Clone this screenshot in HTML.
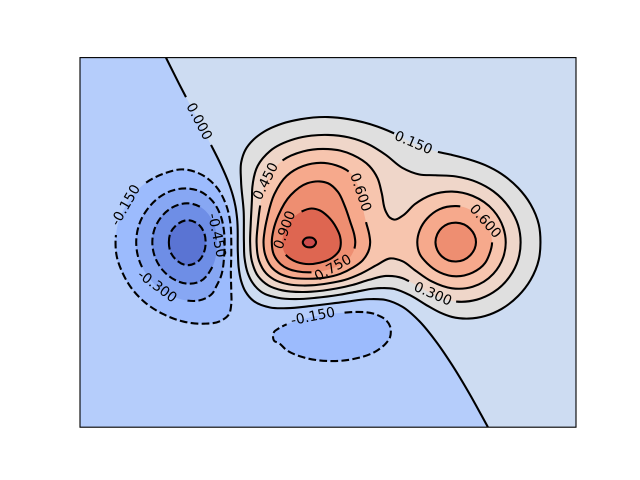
<!DOCTYPE html>
<html lang="en">
<head>
<meta charset="utf-8">
<title>Contour chart</title>
<style>
html,body{margin:0;padding:0;background:#fff;width:640px;height:480px;overflow:hidden}
svg{display:block}
text{font-family:"DejaVu Sans","Liberation Sans",sans-serif;font-size:13.89px;fill:#000}
</style>
</head>
<body>
<svg id="chart" xmlns="http://www.w3.org/2000/svg" width="640" height="480" viewBox="0 0 640 480">
  <defs><clipPath id="axes-clip"><rect x="80" y="57.6" width="496" height="369.6"></rect></clipPath></defs>
  <rect x="0" y="0" width="640" height="480" fill="#ffffff"></rect>
  <g id="fills" clip-path="url(#axes-clip)"></g>
  <g id="lines" clip-path="url(#axes-clip)"></g>
  <g id="labels"></g>
  <rect x="80" y="57.6" width="496" height="369.6" fill="none" stroke="#000" stroke-width="1.11"></rect>
</svg>
<script>
// Contour vertices, in data coordinates [x, y]
const zero = [[-1.96,3],[-1.8,2.571],[-1.718,2.358],[-1.6,2.056],[-1.415,1.582],[-1.3,1.273],[-1.2,.961],[-1.15,.758],[-1.12,.587],[-1.1,.394],[-1.09,-.18],[-1.08,-.414],[-1.05,-.629],[-1,-.794],[-.9,-.951],[-.7,-1.057],[-.5,-1.068],[-.2,-1.032],[.2,-.966],[.5,-.921],[.7,-.935],[.9,-1.045],[1.1,-1.272],[1.3,-1.596],[1.5,-1.987],[1.7,-2.43],[1.935,-3]];
const pos015 = [[1.33,1.47],[1.5,1.42],[1.7,1.35],[1.9,1.255],[2.1,1.11],[2.3,.885],[2.45,.62],[2.55,.29],[2.57,0],[2.55,-.28],[2.45,-.61],[2.3,-.87],[2.1,-1.08],[1.9,-1.195],[1.7,-1.237],[1.5,-1.21],[1.35,-1.135],[1.2,-1.025],[1,-.863],[.8,-.755],[.55,-.75],[.345,-.8],[.14,-.85],[-.15,-.9],[-.4,-.92],[-.6,-.9],[-.81,-.8],[-.915,-.65],[-.97,-.5],[-1.01,-.25],[-1.017,0],[-1.02,.5],[-1.052,1],[-1.05,1.3],[-1,1.5],[-.9,1.67],[-.77,1.8],[-.55,1.93],[-.33,2],[0,2.035],[.25,2],[.6,1.88],[.8,1.77],[1,1.63]];
const pos030 = [[1.55,-.96],[1.8,-.93],[2,-.81],[2.2,-.55],[2.3,-.28],[2.33,0],[2.3,.28],[2.2,.55],[2,.83],[1.8,.98],[1.55,1.07],[1.3,1.09],[1.1,1.105],[.9,1.21],[.7,1.42],[.5,1.587],[.25,1.705],[0,1.745],[-.2,1.733],[-.4,1.68],[-.7,1.485],[-.85,1.245],[-.915,.9],[-.92,.7],[-.935,.3],[-.942,0],[-.922,-.3],[-.845,-.55],[-.72,-.7],[-.55,-.78],[-.3,-.805],[-.2,-.8],[.1,-.748],[.3,-.69],[.5,-.607],[.7,-.545],[.9,-.58],[.98,-.63],[1.3,-.862]];
const pos045 = [[-.82,.6],[-.848,.3],[-.864,0],[-.834,-.3],[-.75,-.5],[-.655,-.6],[-.48,-.68],[-.3,-.7],[-.2,-.697],[0,-.665],[.2,-.61],[.4,-.505],[.6,-.36],[.75,-.26],[.9,-.305],[1.05,-.45],[1.25,-.63],[1.5,-.745],[1.75,-.72],[2,-.51],[2.12,-.24],[2.15,0],[2.12,.24],[2,.52],[1.75,.755],[1.5,.825],[1.25,.77],[1.05,.62],[.9,.43],[.8,.37],[.75,.4],[.7,.5],[.65,.8],[.6,1.04],[.5,1.24],[.3,1.42],[.15,1.49],[0,1.515],[-.3,1.477],[-.55,1.33],[-.75,.99]];
const pos060Left = [[.25,1.15],[.1,1.25],[0,1.283],[-.3,1.24],[-.5,1.08],[-.65,.78],[-.735,.4],[-.765,.2],[-.78,0],[-.76,-.2],[-.685,-.4],[-.595,-.5],[-.45,-.57],[-.25,-.59],[-.05,-.575],[.15,-.51],[.3,-.41],[.42,-.29],[.5,-.1],[.51,0],[.5,.12],[.46,.33],[.415,.6],[.37,.9]];
const pos060Right = [[1.985,0],[1.95,-.2],[1.9,-.335],[1.75,-.49],[1.55,-.55],[1.35,-.485],[1.2,-.34],[1.11,-.19],[1.08,0],[1.11,.2],[1.2,.39],[1.35,.54],[1.55,.59],[1.6,.585],[1.75,.51],[1.9,.34],[1.95,.21]];
const pos075Left = [[.32,-.1],[.33,0],[.32,.11],[.27,.33],[.2,.6],[.12,.82],[0,.96],[-.1,.99],[-.25,.96],[-.45,.77],[-.6,.44],[-.66,.2],[-.68,0],[-.655,-.2],[-.575,-.35],[-.48,-.43],[-.37,-.47],[-.2,-.485],[0,-.443],[.15,-.365],[.27,-.235]];
const pos075Right = [[1.3,0],[1.38,.24],[1.55,.32],[1.72,.22],[1.79,0],[1.72,-.21],[1.55,-.31],[1.38,-.23]];
const pos090 = [[-.51,-.2],[-.45,-.27],[-.3,-.345],[-.1,-.33],[.05,-.25],[.14,-.12],[.155,0],[.145,.1],[.1,.24],[0,.42],[-.1,.52],[-.2,.55],[-.32,.5],[-.42,.4],[-.52,.2],[-.553,0]];
const pos105 = [[-.305,0],[-.282,.057],[-.225,.08],[-.168,.057],[-.145,0],[-.168,-.057],[-.225,-.08],[-.282,-.057]];
const neg015Left = [[-2.2,.97],[-2,1.11],[-1.75,1.185],[-1.53,1.1],[-1.35,.9],[-1.23,.6],[-1.18,.3],[-1.17,0],[-1.17,-.2],[-1.175,-.5],[-1.17,-.8],[-1.17,-1],[-1.2,-1.17],[-1.3,-1.275],[-1.5,-1.32],[-1.75,-1.285],[-2,-1.16],[-2.2,-.99],[-2.4,-.7],[-2.5,-.45],[-2.55,-.26],[-2.57,0],[-2.565,.12],[-2.55,.25],[-2.5,.45],[-2.4,.695]];
const neg015Bottom = [[.2,-1.14],[.3,-1.13],[.6,-1.18],[.7,-1.26],[.75,-1.36],[.76,-1.45],[.75,-1.54],[.7,-1.64],[.6,-1.75],[.3,-1.895],[0,-1.925],[-.3,-1.865],[-.5,-1.75],[-.6,-1.63],[-.65,-1.6],[-.665,-1.53],[-.65,-1.45],[-.6,-1.4],[-.5,-1.33],[-.3,-1.245],[0,-1.165]];
const neg030 = [[-1.7,-.945],[-1.55,-.94],[-1.45,-.885],[-1.4,-.83],[-1.35,-.71],[-1.3,-.57],[-1.255,-.2],[-1.25,0],[-1.26,.2],[-1.3,.44],[-1.4,.675],[-1.55,.83],[-1.7,.875],[-1.85,.855],[-2,.77],[-2.2,.51],[-2.25,.4],[-2.32,0],[-2.25,-.4],[-2.2,-.51],[-2,-.79],[-1.85,-.89]];
const neg045 = [[-1.4,-.4],[-1.55,-.635],[-1.7,-.67],[-1.85,-.61],[-2,-.45],[-2.1,-.21],[-2.125,0],[-2.1,.21],[-2,.44],[-1.85,.59],[-1.7,.635],[-1.55,.58],[-1.4,.36],[-1.345,0]];
const neg060 = [[-1.925,0],[-1.9,.17],[-1.85,.26],[-1.7,.36],[-1.55,.27],[-1.5,.16],[-1.48,0],[-1.5,-.16],[-1.55,-.28],[-1.7,-.37],[-1.85,-.265],[-1.9,-.17]];

const levels = [-.6,-.45,-.3,-.15,0,.15,.3,.45,.6,.75,.9,1.05];
const bandColors = ['#5a74d3','#6e8ee6','#87a7f3','#9cbbfd','#cddcf2','#dfdfdf','#efd6c9','#f7c5ae','#f6a98c','#ee8e71','#de6651','#cc4c4c'];
const baseColor = '#b5cdfb';

// level, vertices, the segment span hidden under the inline label, and where along that span the label sits
const contours = [
  {level:0,points:zero,closed:false,gap:[2,4],along:.5},
  {level:.15,points:pos015,closed:true,gap:[42,44],along:.44},
  {level:.3,points:pos030,closed:true,gap:[37,39],along:.5},
  {level:.45,points:pos045,closed:true,gap:[39,41],along:.5},
  {level:.6,points:pos060Left,closed:true,gap:[21,24],along:.53},
  {level:.6,points:pos060Right,closed:true,gap:[13,17],along:.55},
  {level:.75,points:pos075Left,closed:true,gap:[17,21],along:.42},
  {level:.75,points:pos075Right,closed:true,gap:null,along:.5},
  {level:.9,points:pos090,closed:true,gap:[12,16],along:.47},
  {level:1.05,points:pos105,closed:true,gap:null,along:.5},
  {level:-.15,points:neg015Left,closed:true,gap:[22,26],along:.5},
  {level:-.15,points:neg015Bottom,closed:true,gap:[18,21],along:.43},
  {level:-.3,points:neg030,closed:true,gap:[18,22],along:.41},
  {level:-.45,points:neg045,closed:true,gap:[11,14],along:.5},
  {level:-.6,points:neg060,closed:true,gap:null,along:.5}
];

const xDomain = [-3,3];
const yDomain = [-3,3];
function xScale(v){return 80+(v-xDomain[0])/(xDomain[1]-xDomain[0])*496;}
function yScale(v){return 427.2-(v-yDomain[0])/(yDomain[1]-yDomain[0])*369.6;}
const SVGNS='http://www.w3.org/2000/svg';

function buildSegments(c){
  const P=c.points.map(function(p){return [xScale(p[0]),yScale(p[1])];});
  const n=P.length;
  function at(i){return c.closed?P[(i+n)%n]:P[Math.max(0,Math.min(n-1,i))];}
  const T=P.map(function(p,i){
    const a=at(i-1),b=at(i+1);
    const l1=Math.hypot(p[0]-a[0],p[1]-a[1])||1e-6,l2=Math.hypot(b[0]-p[0],b[1]-p[1])||1e-6;
    let tx=(p[0]-a[0])/l1*l2+(b[0]-p[0])/l2*l1,ty=(p[1]-a[1])/l1*l2+(b[1]-p[1])/l2*l1;
    const m=Math.hypot(tx,ty)||1;
    return [tx/m,ty/m];
  });
  const segs=[];
  const count=c.closed?n:n-1;
  for(let i=0;i<count;i++){
    const p0=P[i],p1=P[(i+1)%n];
    const l=Math.hypot(p1[0]-p0[0],p1[1]-p0[1])/3;
    segs.push([p0,[p0[0]+T[i][0]*l,p0[1]+T[i][1]*l],[p1[0]-T[(i+1)%n][0]*l,p1[1]-T[(i+1)%n][1]*l],p1]);
  }
  return segs;
}
function f(v){return v.toFixed(2);}
function pathOf(segs){
  let d='M'+f(segs[0][0][0])+' '+f(segs[0][0][1]);
  segs.forEach(function(s){
    d+='C'+f(s[1][0])+' '+f(s[1][1])+' '+f(s[2][0])+' '+f(s[2][1])+' '+f(s[3][0])+' '+f(s[3][1]);
  });
  return d;
}
function bez(s,t){
  const u=1-t;
  return [0,1].map(function(k){return u*u*u*s[0][k]+3*u*u*t*s[1][k]+3*u*t*t*s[2][k]+t*t*t*s[3][k];});
}
function colorFor(level){return bandColors[levels.indexOf(level)];}

const fillsG=document.getElementById('fills');
const linesG=document.getElementById('lines');
const labelsG=document.getElementById('labels');

const baseRect=document.createElementNS(SVGNS,'rect');


baseRect.setAttribute('x',xScale(xDomain[0]));
baseRect.setAttribute('y',yScale(yDomain[1]));
baseRect.setAttribute('width',xScale(xDomain[1])-xScale(xDomain[0]));
baseRect.setAttribute('height',yScale(yDomain[0])-yScale(yDomain[1]));
baseRect.setAttribute('fill',baseColor);
fillsG.appendChild(baseRect);

contours.forEach(function(c){
  const segs=buildSegments(c);
  let d=pathOf(segs);
  if(c.closed){d+='Z';}
  else{
    d+='L'+xScale(xDomain[1])+' '+yScale(yDomain[0])+'L'+xScale(xDomain[1])+' '+yScale(yDomain[1])+'Z';
  }
  const fillEl=document.createElementNS(SVGNS,'path');
  
  
  fillEl.setAttribute('d',d);
  fillEl.setAttribute('fill',colorFor(c.level));
  fillsG.appendChild(fillEl);

  let runs;
  if(!c.gap){runs=[segs];}
  else{runs=[segs.slice(0,c.gap[0]),segs.slice(c.gap[1])].filter(function(r){return r.length;});}
  runs.forEach(function(r){
    const lineEl=document.createElementNS(SVGNS,'path');
    
    
    let ld=pathOf(r);
    if(!c.gap&&c.closed){ld+='Z';}
    lineEl.setAttribute('d',ld);
    lineEl.setAttribute('fill','none');
    lineEl.setAttribute('stroke','#000');
    lineEl.setAttribute('stroke-width','2.08');
    if(c.level<0){lineEl.setAttribute('stroke-dasharray','7.7 3.33');}
    linesG.appendChild(lineEl);
  });

  if(c.gap){
    const hidden=segs.slice(c.gap[0],c.gap[1]);
    const samples=[];
    hidden.forEach(function(s){for(let t=0;t<=10;t++){samples.push(bez(s,t/10));}});
    let total=0;
    for(let i=1;i<samples.length;i++){total+=Math.hypot(samples[i][0]-samples[i-1][0],samples[i][1]-samples[i-1][1]);}
    let run=0,mid=samples[0];
    for(let i=1;i<samples.length;i++){
      run+=Math.hypot(samples[i][0]-samples[i-1][0],samples[i][1]-samples[i-1][1]);
      if(run>=total*c.along){mid=samples[i];break;}
    }
    const a=samples[0],b=samples[samples.length-1];
    let ang=Math.atan2(b[1]-a[1],b[0]-a[0])*180/Math.PI;
    if(ang>90){ang-=180;}
    if(ang<-90){ang+=180;}
    const t=document.createElementNS(SVGNS,'text');
    
    
    t.setAttribute('text-anchor','middle');
    t.setAttribute('dominant-baseline','central');
    t.setAttribute('transform','translate('+f(mid[0])+' '+f(mid[1])+') rotate('+f(ang)+')');
    t.textContent=c.level.toFixed(3);
    labelsG.appendChild(t);
  }
});
</script>
</body>
</html>
